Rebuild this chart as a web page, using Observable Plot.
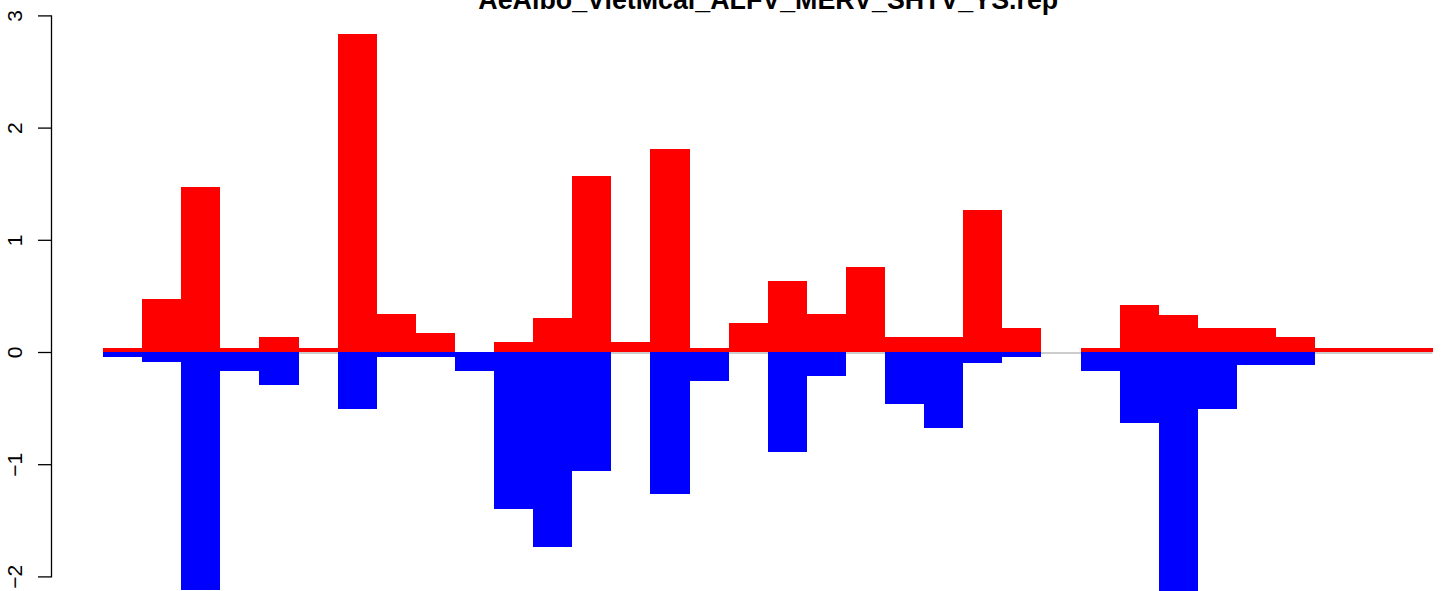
<!DOCTYPE html>
<html>
<head>
<meta charset="utf-8">
<script src="https://cdn.jsdelivr.net/npm/d3@7"></script>
<script src="https://cdn.jsdelivr.net/npm/@observablehq/plot@0.6"></script>
<style>
  html, body { margin: 0; padding: 0; background: #fff; overflow: hidden; }
  #chart svg { display: block; }
</style>
</head>
<body>
<div id="chart"></div>
<script>
const title = "AeAlbo_VietMcal_ALFV_MERV_SHTV_YS.rep";
const positions = d3.range(1, 35);
const upValues = [0.04, 0.47, 1.475, 0.04, 0.13, 0.04, 2.83, 0.335, 0.165, 0, 0.087, 0.30, 1.565, 0.087, 1.81, 0.04, 0.257, 0.637, 0.337, 0.762, 0.13, 0.13, 1.27, 0.21, 0, 0.04, 0.423, 0.334, 0.21, 0.21, 0.13, 0.04, 0.04, 0.04];
const downValues = [-0.046, -0.09, -2.12, -0.17, -0.296, 0, -0.51, -0.046, -0.046, -0.17, -1.40, -1.735, -1.06, 0, -1.265, -0.26, 0, -0.893, -0.216, 0, -0.465, -0.68, -0.094, -0.046, 0, -0.17, -0.63, -2.13, -0.51, -0.12, -0.12, 0, 0, 0];
const yTicks = [-2, -1, 0, 1, 2, 3];

const up = positions.map((p, i) => ({pos: p, v: upValues[i]}));
const down = positions.map((p, i) => ({pos: p, v: downValues[i]}));

const chart = Plot.plot({
  width: 1444,
  height: 591,
  marginLeft: 51,
  marginRight: 11.5,
  marginTop: 15.4,
  marginBottom: 14.6,
  style: {fontFamily: "'Liberation Sans', Arial, Helvetica, sans-serif", background: "#fff"},
  x: {domain: positions, range: [103, 1432.5], padding: 0, round: false, axis: null},
  y: {domain: [-2, 3], range: [576.4, 15.4], axis: null, label: null},
  marks: [
    Plot.ruleY([0], {x1: positions[0], x2: positions[positions.length - 1], stroke: "#9a9a9a", strokeWidth: 1, dy: 0.5}),
    Plot.barY(up, {x: "pos", y1: 0, y2: "v", fill: "#ff0000", shapeRendering: "crispEdges"}),
    Plot.barY(down, {x: "pos", y1: 0, y2: "v", fill: "#0000ff", shapeRendering: "crispEdges"}),
    Plot.frame({anchor: "left", stroke: "#000", strokeWidth: 1.3}),
    Plot.axisY({ticks: yTicks, tickFormat: "d", label: null, anchor: "left", tickSize: 13, tickPadding: 17, tickRotate: -90, fontSize: 21, stroke: "#000", strokeWidth: 1.3, color: "#000"}),
    Plot.text([title], {frameAnchor: "top", lineAnchor: "bottom", dx: 26, dy: -7.4, fontSize: 26.8, fontWeight: "bold", fill: "#000"})
  ]
});
document.getElementById("chart").appendChild(chart);
</script>
</body>
</html>
